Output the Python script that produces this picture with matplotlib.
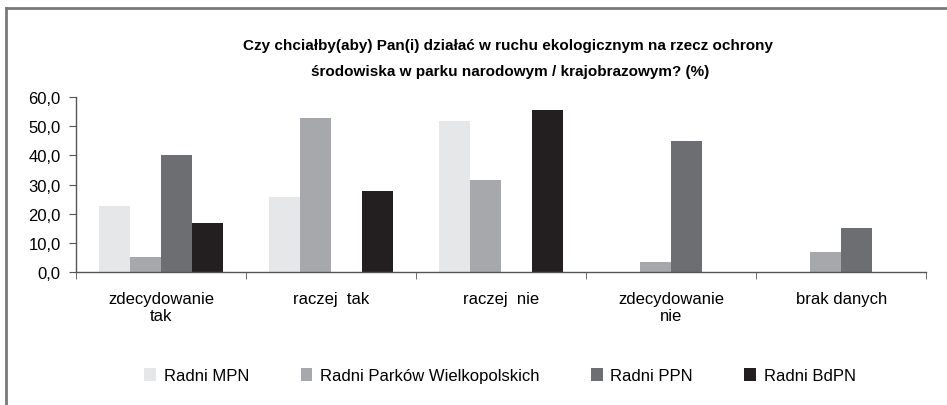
import numpy as np
from matplotlib import pyplot as plt
from matplotlib.lines import Line2D
from matplotlib.ticker import FuncFormatter

kategorie = ['zdecydowanie\ntak', 'raczej  tak', 'raczej  nie', 'zdecydowanie\nnie', 'brak danych']
radni_mpn = [22.6, 25.8, 51.7, 0.0, 0.0]
radni_pw = [5.3, 52.7, 31.7, 3.5, 7.0]
radni_ppn = [40.0, 0.0, 0.0, 45.0, 15.0]
radni_bdpn = [16.7, 27.7, 55.7, 0.0, 0.0]

serie = ['Radni MPN', 'Radni Parków Wielkopolskich', 'Radni PPN', 'Radni BdPN']
kolory = ['#e6e7e8', '#a7a8ab', '#6d6e71', '#231f20']

plt.rcParams['font.family'] = ['Liberation Sans', 'DejaVu Sans']

fig = plt.figure(figsize=(9.47, 4.06), dpi=100)
ax = fig.add_axes([0.0803, 0.3276, 0.8977, 0.431])

x = np.arange(len(kategorie))
w = 0.182
dane = [radni_mpn, radni_pw, radni_ppn, radni_bdpn]
for i, (d, k, s) in enumerate(zip(dane, kolory, serie)):
    ax.bar(x + (i - 1.5) * w, d, w, color=k, label=s)

ax.set_xlim(-0.5, len(kategorie) - 0.5)
ax.set_ylim(0, 60)
ax.set_yticks(np.arange(0, 61, 10))
ax.yaxis.set_major_formatter(FuncFormatter(lambda v, p: f'{v:.1f}'.replace('.', ',')))
ax.set_xticks(x)
ax.set_xticklabels(kategorie, fontsize=12, linespacing=1.1)
ax.set_xticks(np.arange(-0.5, len(kategorie)), minor=True)
ax.tick_params(axis='x', which='major', length=0, pad=14)
ax.tick_params(axis='x', which='minor', length=5, direction='out', color='#555555')
ax.tick_params(axis='y', length=5, labelsize=12, color='#555555', pad=6)
for s in ['top', 'right']:
    ax.spines[s].set_visible(False)
for s in ['left', 'bottom']:
    ax.spines[s].set_color('#555555')
    ax.spines[s].set_linewidth(1.0)

fig.text(0.536, 0.887, 'Czy chciałby(aby) Pan(i) działać w ruchu ekologicznym na rzecz ochrony',
         ha='center', va='center', fontsize=11, fontweight='bold')
fig.text(0.539, 0.823, 'środowiska w parku narodowym / krajobrazowym? (%)',
         ha='center', va='center', fontsize=11, fontweight='bold')

fig.legend(loc='center', bbox_to_anchor=(0.528, 0.072), ncol=4, frameon=False,
           fontsize=12, handlelength=0.7, handleheight=0.8, handletextpad=0.45,
           columnspacing=3.1)

fig.add_artist(Line2D([0.006, 0.006], [0, 0.977], transform=fig.transFigure, color='#7a7a7a', lw=2))
fig.add_artist(Line2D([0.006, 1], [0.977, 0.977], transform=fig.transFigure, color='#7a7a7a', lw=2))

fig.savefig('out.png', dpi=100)
